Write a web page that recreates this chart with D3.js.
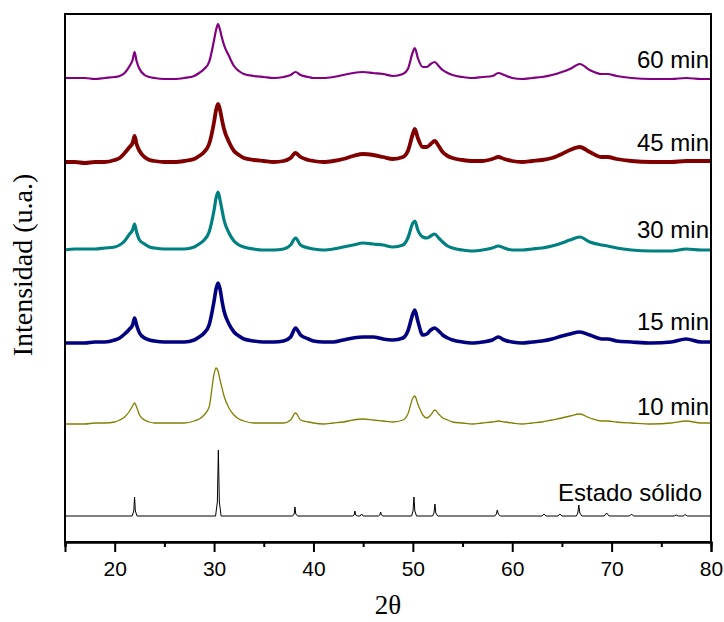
<!DOCTYPE html>
<html>
<head>
<meta charset="utf-8">
<script src="https://cdn.jsdelivr.net/npm/d3@7"></script>
<style>
  html, body { margin: 0; padding: 0; background: #fff; }
  svg { display: block; }
</style>
</head>
<body>
<svg id="chart" width="724" height="622"></svg>
<script>
// 2θ grid shared by the nanocrystalline patterns
const twoTheta = [15, 16, 17, 18, 19, 20, 20.5, 21, 21.5, 21.8, 22, 22.2, 22.5, 23, 23.5, 24, 25, 26, 27, 28,
  28.5, 29, 29.5, 30, 30.2, 30.4, 30.6, 30.8, 31, 31.5, 32, 32.5, 33, 34, 35, 36, 37, 37.7, 38.2, 38.7,
  39.5, 40, 41, 42, 43, 44, 45, 46, 47, 48, 49, 49.5, 50, 50.2, 50.5, 51, 51.4, 51.8, 52.2, 52.6,
  53, 53.5, 54, 55, 56, 57, 58, 58.6, 59.2, 60, 61, 62, 63, 64, 65, 65.8, 66.8, 67.8, 69, 69.6,
  70.5, 72, 74, 76, 77.5, 79, 80];

// Intensity above each pattern's own baseline (u.a.)
const min60 = [0, 0, 0, -1, 0, 1, 2, 5, 12, 18, 26, 17, 9, 3, 1, 0, -1, -1, 0, 2,
  5, 9, 16, 38, 48, 54, 48, 40, 33, 22, 12, 7, 4, 2, 1, 0, 1, 3, 6, 3,
  1, 0, 0, 1, 3, 5, 6, 5, 4, 2, 4, 9, 26, 30, 20, 11, 11, 14, 16, 12,
  8, 5, 3, 1, 0, 1, 2, 5, 3, 0, -1, 0, 1, 3, 6, 9, 14, 8, 4, 4,
  2, 0, -1, -1, 0, -1, -1];
const min45 = [0, 0, -1, 0, 0, 2, 4, 9, 15, 19, 26, 18, 11, 5, 2, 1, 0, 0, 1, 3,
  6, 10, 18, 40, 52, 58, 52, 42, 33, 20, 11, 7, 4, 2, 1, 0, 1, 4, 9, 5,
  2, 1, 0, 1, 3, 6, 8, 7, 5, 3, 5, 11, 28, 33, 24, 15, 15, 18, 21, 16,
  10, 6, 4, 2, 1, 1, 3, 5, 3, 1, 0, 1, 2, 4, 8, 12, 15, 10, 5, 5,
  3, 1, 0, 0, 1, 1, 1];
const min30 = [0, 1, 1, 1, 2, 3, 5, 9, 16, 20, 26, 18, 10, 6, 3, 2, 1, 1, 1, 3,
  6, 10, 18, 40, 52, 58, 50, 40, 30, 17, 9, 5, 3, 1, 0, 0, 1, 5, 12, 5,
  2, 1, 0, 1, 3, 5, 7, 6, 5, 3, 5, 12, 27, 29, 20, 13, 12, 14, 16, 12,
  8, 4, 2, 0, -1, 0, 2, 4, 2, 0, 0, 1, 2, 4, 7, 10, 13, 8, 5, 4,
  2, 0, -1, -1, 1, 0, 0];
const min15 = [0, 0, 0, 1, 1, 3, 5, 9, 14, 18, 25, 18, 10, 5, 3, 2, 1, 1, 1, 3,
  6, 10, 18, 42, 54, 60, 54, 42, 32, 19, 11, 7, 4, 2, 1, 1, 2, 6, 15, 8,
  4, 2, 1, 1, 3, 5, 6, 6, 4, 3, 5, 12, 29, 33, 22, 8, 9, 13, 15, 12,
  8, 5, 3, 1, 0, 1, 3, 6, 3, 1, 0, 1, 2, 4, 7, 9, 11, 8, 4, 4,
  2, 1, 0, 1, 4, 1, 1];
const min10 = [0, 0, 0, 1, 1, 2, 4, 7, 13, 18, 21, 17, 9, 4, 2, 1, 1, 1, 1, 3,
  5, 9, 17, 50, 56, 53, 44, 36, 28, 16, 9, 5, 3, 1, 1, 1, 1, 4, 11, 4,
  2, 1, 0, 1, 2, 4, 5, 4, 3, 2, 4, 10, 26, 28, 20, 9, 6, 9, 14, 10,
  6, 4, 2, 1, 0, 1, 2, 3, 2, 1, 0, 1, 2, 4, 6, 8, 10, 6, 3, 3,
  2, 1, 0, 1, 3, 1, 1];

// Solid-state reference pattern (sharp reflections)
const solidTheta = [15,
  21.75, 21.92, 22.0, 22.08, 22.25,
  30.15, 30.33, 30.43, 30.53, 30.71,
  37.9, 38.06, 38.14, 38.22, 38.4,
  43.95, 44.09, 44.17, 44.25, 44.45, 44.7, 44.85, 45.0,
  46.55, 46.68, 46.76, 46.84, 47.0,
  49.87, 50.02, 50.11, 50.2, 50.37,
  51.98, 52.13, 52.22, 52.31, 52.5,
  58.25, 58.4, 58.5, 58.6, 58.8,
  63.0, 63.2, 63.4,
  64.6, 64.8, 65.0,
  66.45, 66.6, 66.7, 66.8, 67.0,
  69.25, 69.5, 69.75,
  71.8, 72.0, 72.2,
  76.3, 76.5, 76.7,
  77.2, 77.4, 77.6,
  80];
const solidState = [0,
  0, 5, 19, 5, 0,
  0, 14, 66, 14, 0,
  0, 2, 9, 2, 0,
  0, 1, 5, 1, 0, 0, 2, 0,
  0, 1, 4, 1, 0,
  0, 5, 19, 5, 0,
  0, 3, 12, 3, 0,
  0, 2, 6, 2, 0,
  0, 2, 0,
  0, 2, 0,
  0, 3, 11, 3, 0,
  0, 3, 0,
  0, 2, 0,
  0, 1, 0,
  0, 1.5, 0,
  0];

// Pattern names, vertical stacking offsets and colours (top to bottom)
const labels = ["60 min", "45 min", "30 min", "15 min", "10 min", "Estado sólido"];
const offsets = [464, 380, 292, 199, 118, 26];
const colors = ["#800080", "#800000", "#008080", "#000080", "#808000", "#000000"];
const strokeWidths = [2.2, 3.8, 3.2, 3.6, 1.3, 1];
const labelOffsets = [10, 11, 12, 13, 9, 15]; // label baseline above pattern baseline

const majorTicks = [20, 30, 40, 50, 60, 70, 80];
const minorTicks = [15, 25, 35, 45, 55, 65, 75];

const series = [
  { theta: twoTheta, values: min60 },
  { theta: twoTheta, values: min45 },
  { theta: twoTheta, values: min30 },
  { theta: twoTheta, values: min15 },
  { theta: twoTheta, values: min10 },
  { theta: solidTheta, values: solidState }
];

const margin = { left: 65, right: 13, top: 14, bottom: 80 };
const width = 724, height = 622;
const svg = d3.select("#chart");

const x = d3.scaleLinear().domain([15, 80]).range([margin.left, width - margin.right]);
const y = d3.scaleLinear().domain([0, 528]).range([height - margin.bottom, margin.top]);

// Patterns
series.forEach((s, i) => {
  const pts = s.theta.map((t, k) => [t, s.values[k] + offsets[i]]);
  const line = d3.line()
    .x(d => x(d[0]))
    .y(d => y(d[1]))
    .curve(i === 5 ? d3.curveLinear : d3.curveMonotoneX);
  svg.append("path")
    .datum(pts)
    .attr("fill", "none")
    .attr("stroke", colors[i])
    .attr("stroke-width", strokeWidths[i])
    .attr("stroke-linejoin", "round")
    .attr("d", line);
});

// Pattern labels
labels.forEach((lab, i) => {
  svg.append("text")
    .attr("x", i === 5 ? x(79.1) : x(79.8))
    .attr("y", y(offsets[i] + labelOffsets[i]))
    .attr("text-anchor", "end")
    .attr("font-family", "Liberation Sans, Arial, sans-serif")
    .attr("font-size", 24)
    .attr("fill", "#000")
    .text(lab);
});

// Frame
svg.append("rect")
  .attr("x", margin.left)
  .attr("y", margin.top)
  .attr("width", width - margin.left - margin.right)
  .attr("height", height - margin.top - margin.bottom)
  .attr("fill", "none")
  .attr("stroke", "#000")
  .attr("stroke-width", 2);

// Bottom axis: major ticks with labels, minor ticks without
const axisY = height - margin.bottom;
const major = svg.append("g")
  .attr("transform", `translate(0,${axisY})`)
  .call(d3.axisBottom(x).tickValues(majorTicks).tickSize(10).tickPadding(9).tickFormat(d3.format("d")));
const minor = svg.append("g")
  .attr("transform", `translate(0,${axisY})`)
  .call(d3.axisBottom(x).tickValues(minorTicks).tickSize(5).tickFormat(""));
[major, minor].forEach(g => {
  g.select(".domain").attr("stroke", "#000").attr("stroke-width", 2);
  g.selectAll(".tick line").attr("stroke", "#000").attr("stroke-width", 2);
});
major.selectAll(".tick text")
  .attr("font-family", "Liberation Sans, Arial, sans-serif")
  .attr("font-size", 21)
  .attr("fill", "#000");

// Axis titles
svg.append("text")
  .attr("x", (x(15) + x(80)) / 2)
  .attr("y", 614)
  .attr("text-anchor", "middle")
  .attr("font-family", "Liberation Serif, Times New Roman, serif")
  .attr("font-size", 27)
  .attr("fill", "#000")
  .text("2θ");

svg.append("text")
  .attr("transform", "translate(32,265) rotate(-90)")
  .attr("text-anchor", "middle")
  .attr("font-family", "Liberation Serif, Times New Roman, serif")
  .attr("font-size", 28)
  .attr("fill", "#000")
  .text("Intensidad (u.a.)");
</script>
</body>
</html>
